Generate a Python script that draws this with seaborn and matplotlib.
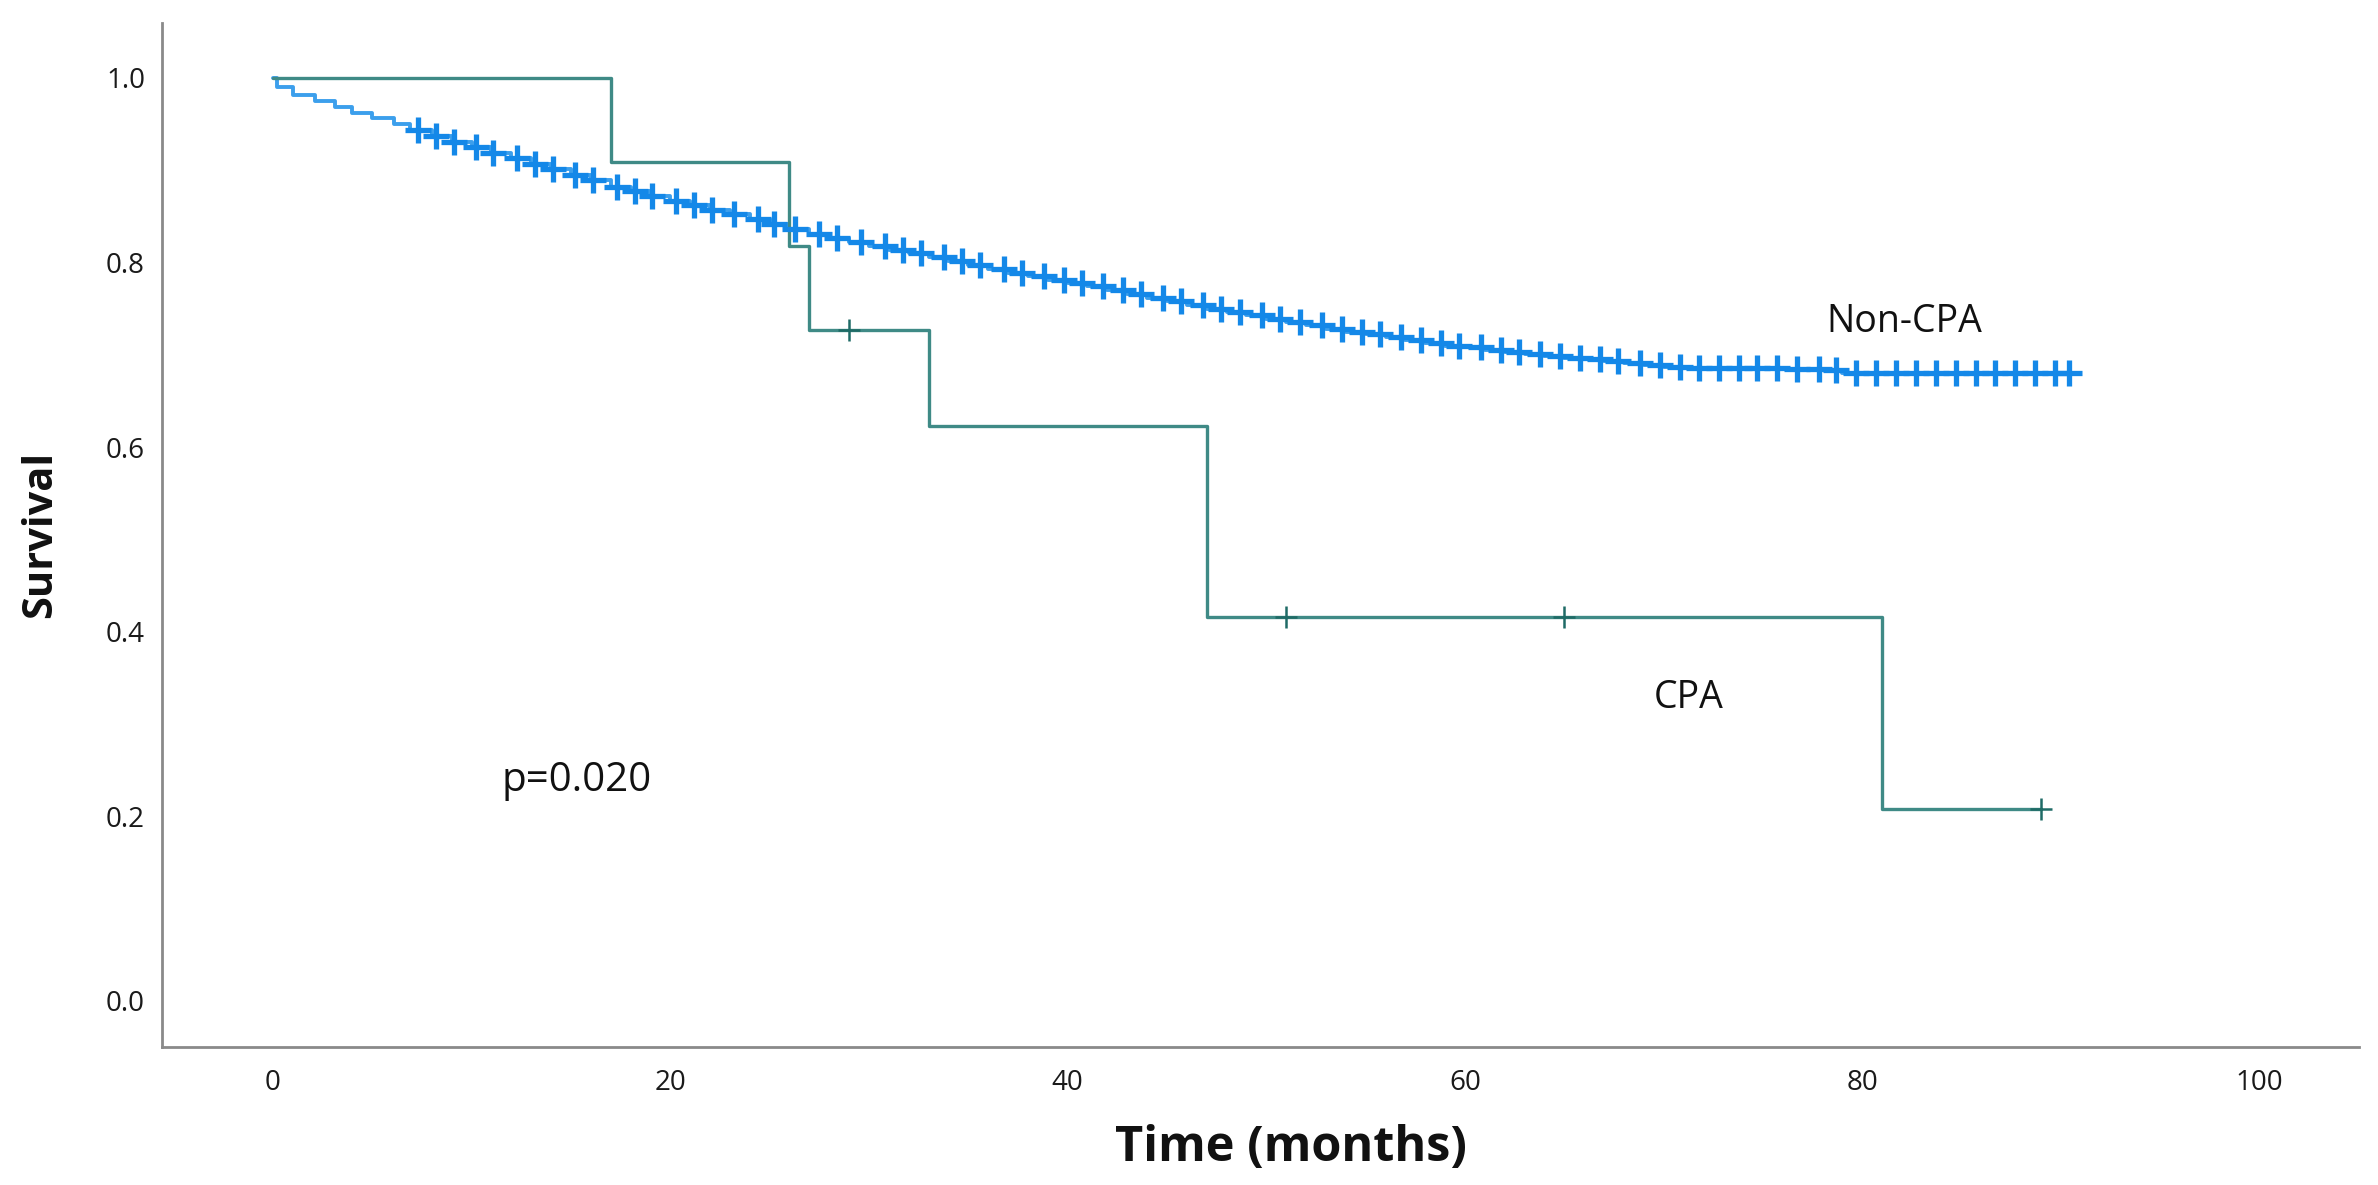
import numpy as np
import pandas as pd
import matplotlib
matplotlib.use("Agg")
import matplotlib.pyplot as plt
import seaborn as sns

# Kaplan-Meier curves
cpa_time = [0, 17, 26, 27, 33, 47, 81, 89]
cpa_surv = [1.0, 0.909, 0.818, 0.727, 0.623, 0.416, 0.208, 0.208]
cpa_censor = [29, 51, 65, 89]

noncpa_time = [0, 0.2, 1.0, 2.1, 3.1, 4.0, 5.0, 6.1, 6.9, 8, 9, 10, 11, 12, 13, 14, 15,
               16, 17, 18, 19, 20, 21, 22, 23, 24, 25, 26, 27, 28, 29, 30, 31, 32, 33,
               34, 35, 36, 37, 38, 39, 40, 41, 42, 43, 44, 45, 46, 47, 48, 49, 50, 51,
               52, 53, 54, 55, 56, 57, 58, 59, 60, 61, 62, 63, 64, 65, 66, 67, 68, 69,
               70, 71, 76, 78, 79, 90.5]
noncpa_surv = [1.0, 0.990, 0.982, 0.975, 0.968, 0.962, 0.956, 0.950, 0.943, 0.937, 0.931,
               0.925, 0.919, 0.913, 0.907, 0.901, 0.895, 0.889, 0.882, 0.877, 0.872,
               0.867, 0.862, 0.857, 0.852, 0.847, 0.842, 0.836, 0.831, 0.827, 0.822,
               0.818, 0.814, 0.810, 0.806, 0.802, 0.797, 0.793, 0.789, 0.785, 0.781,
               0.778, 0.774, 0.770, 0.766, 0.762, 0.758, 0.754, 0.750, 0.746, 0.743,
               0.739, 0.735, 0.732, 0.728, 0.725, 0.722, 0.719, 0.716, 0.713, 0.710,
               0.708, 0.705, 0.703, 0.701, 0.699, 0.697, 0.695, 0.693, 0.691, 0.689,
               0.687, 0.686, 0.685, 0.683, 0.680, 0.680]
noncpa_censor = [7.3, 8.2, 9.1, 10.2, 11.1, 12.3, 13.2, 14.1, 15.2, 16.1, 17.3, 18.2,
                 19.1, 20.3, 21.2, 22.1, 23.2, 24.4, 25.2, 26.3, 27.5, 28.4, 29.6, 30.8,
                 31.7, 32.6, 33.8, 34.7, 35.6, 36.8, 37.7, 38.8, 39.8, 40.7, 41.8, 42.8,
                 43.7, 44.8, 45.7, 46.8, 47.7, 48.7, 49.8, 50.7, 51.7, 52.8, 53.8, 54.8,
                 55.7, 56.8, 57.8, 58.8, 59.7, 60.8, 61.8, 62.7, 63.8, 64.8, 65.8, 66.8,
                 67.7, 68.8, 69.8, 70.8, 71.8, 72.8, 73.8, 74.7, 75.7, 76.7, 77.8, 78.7,
                 79.7, 80.7, 81.7, 82.7, 83.7, 84.7, 85.7, 86.7, 87.7, 88.7, 89.7, 90.4]

y_ticks = [0.0, 0.2, 0.4, 0.6, 0.8, 1.0]
x_ticks = [0, 20, 40, 60, 80, 100]


def surv_at(times, surv, t):
    idx = np.searchsorted(times, t, side="right") - 1
    return np.asarray(surv)[idx]


cpa = pd.DataFrame({"time": cpa_time, "surv": cpa_surv})
noncpa = pd.DataFrame({"time": noncpa_time, "surv": noncpa_surv})
cpa_c = pd.DataFrame({"time": cpa_censor,
                      "surv": surv_at(cpa_time, cpa_surv, cpa_censor)})
noncpa_c = pd.DataFrame({"time": noncpa_censor,
                         "surv": surv_at(noncpa_time, noncpa_surv, noncpa_censor)})

sns.set_style("white")
plt.rcParams["font.family"] = ["Open Sans", "DejaVu Sans"]

teal = "#3f8a86"
teal_dark = "#1f6b66"
blue_line = "#3c9fec"
blue_mark = "#1488e8"

fig, ax = plt.subplots(figsize=(11.89, 5.925), dpi=200)
fig.subplots_adjust(left=0.068, right=0.992, bottom=0.1165, top=0.981)

sns.lineplot(data=noncpa, x="time", y="surv", drawstyle="steps-post",
             estimator=None, color=blue_line, linewidth=1.4, ax=ax)
sns.scatterplot(data=noncpa_c, x="time", y="surv", marker="+", s=85,
                color=blue_mark, linewidth=1.9, ax=ax, zorder=3)
sns.lineplot(data=cpa, x="time", y="surv", drawstyle="steps-post",
             estimator=None, color=teal, linewidth=1.2, ax=ax)
sns.scatterplot(data=cpa_c, x="time", y="surv", marker="+", s=60,
                color=teal_dark, linewidth=0.9, ax=ax, zorder=4)

ax.set_xlim(-5.6, 105)
ax.set_ylim(-0.05, 1.06)
ax.set_xticks(x_ticks)
ax.set_yticks(y_ticks)
ax.set_yticklabels([f"{v:.1f}" for v in y_ticks])
ax.tick_params(axis="both", length=0, labelsize=10, colors="#1a1a1a")
ax.tick_params(axis="x", pad=8)
ax.tick_params(axis="y", pad=6)

for side in ["top", "right"]:
    ax.spines[side].set_visible(False)
for side in ["left", "bottom"]:
    ax.spines[side].set_color("#8a8a8a")
    ax.spines[side].set_linewidth(1.0)

ax.set_xlabel("Time (months)", fontsize=17.5, fontweight="bold", labelpad=8,
              color="#111111")
ax.xaxis.set_label_coords(0.514, -0.075)
ax.set_ylabel("Survival", fontsize=15, fontweight="bold", labelpad=16,
              color="#111111")

ax.text(11.5, 0.238, "p=0.020", fontsize=14.5, va="center", ha="left",
        color="#111111")
ax.text(69.5, 0.328, "CPA", fontsize=13.5, va="center", ha="left",
        color="#111111")
ax.text(78.2, 0.736, "Non-CPA", fontsize=13.5, va="center", ha="left",
        color="#111111")

plt.savefig("out.png", dpi=200)
